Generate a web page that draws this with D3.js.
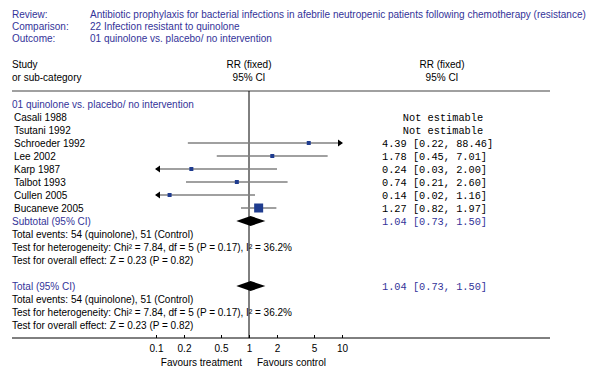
<!DOCTYPE html>
<html>
<head>
<meta charset="utf-8">
<script src="https://cdn.jsdelivr.net/npm/d3@7"></script>
<style>
  body { margin: 0; background: #fff; }
  text { font-family: "Liberation Sans", Arial, sans-serif; font-size: 10px; }
  .mono { font-family: "Liberation Mono", monospace; font-size: 10.3px; }
</style>
</head>
<body>
<div id="chart"></div>
<script>
var headLabels = ['Review:', 'Comparison:', 'Outcome:'];
var headValues = ['Antibiotic prophylaxis for bacterial infections in afebrile neutropenic patients following chemotherapy (resistance)',
                  '22 Infection resistant to quinolone',
                  '01 quinolone vs. placebo/ no intervention'];

var studies = ['Casali 1988', 'Tsutani 1992', 'Schroeder 1992', 'Lee 2002', 'Karp 1987', 'Talbot 1993', 'Cullen 2005', 'Bucaneve 2005'];
var rr    = [null, null, 4.39, 1.78, 0.24, 0.74, 0.14, 1.27];
var lower = [null, null, 0.22, 0.45, 0.03, 0.21, 0.02, 0.82];
var upper = [null, null, 88.46, 7.01, 2.00, 2.60, 1.16, 1.97];
var weight = [0, 0, 1.9, 5.0, 7.1, 8.4, 12.6, 65.0];

var pooled = [1.04, 0.73, 1.50];
var summaryLines = ['Total events: 54 (quinolone), 51 (Control)',
                    'Test for heterogeneity: Chi\u00b2 = 7.84, df = 5 (P = 0.17), I\u00b2 = 36.2%',
                    'Test for overall effect: Z = 0.23 (P = 0.82)'];
var tickValues = [0.1, 0.2, 0.5, 1, 2, 5, 10];

var width = 595, height = 370;
var blue = '#333399', grey = '#808080', boxBlue = '#1f3c8f';

var svg = d3.select('#chart').append('svg')
    .attr('width', width)
    .attr('height', height);

var x = d3.scaleLog().domain([0.1, 10]).range([156, 342]);
var row = d3.scaleLinear().domain([0, 1]).range([104, 117]);   // row index -> y centre
var size = d3.scaleSqrt().domain([0, 65]).range([0, 9]);

// header block
headLabels.forEach(function(t, i) {
  svg.append('text').attr('x', 12).attr('y', 18 + i * 12).attr('fill', blue).text(t);
  svg.append('text').attr('x', 90).attr('y', 18 + i * 12).attr('fill', blue).text(headValues[i]);
});

svg.append('text').attr('x', 12).attr('y', 68).text('Study');
svg.append('text').attr('x', 12).attr('y', 81).text('or sub-category');
[249, 442].forEach(function(cx) {
  svg.append('text').attr('x', cx).attr('y', 68).attr('text-anchor', 'middle').text('RR (fixed)');
  svg.append('text').attr('x', cx).attr('y', 81).attr('text-anchor', 'middle').text('95% CI');
});

svg.append('line').attr('x1', 12).attr('x2', 550).attr('y1', 91).attr('y2', 91)
    .attr('stroke', grey).attr('stroke-width', 1.5);

// vertical line of no effect
svg.append('line').attr('x1', x(1)).attr('x2', x(1)).attr('y1', 91).attr('y2', 338)
    .attr('stroke', '#000').attr('stroke-width', 1);

// group header
svg.append('text').attr('x', 12).attr('y', row(0) + 4).attr('fill', blue).text(headValues[2]);

// studies
var fmt = d3.format('.2f');
studies.forEach(function(s, i) {
  var y = row(i + 1);
  svg.append('text').attr('x', 14).attr('y', y + 4).text(s);
  if (rr[i] == null) {
    svg.append('text').attr('class', 'mono').attr('x', 443).attr('y', y + 4)
      .attr('text-anchor', 'middle').text('Not estimable');
    return;
  }
  var lo = Math.max(lower[i], 0.1), hi = Math.min(upper[i], 10);
  svg.append('line').attr('x1', x(lo)).attr('x2', x(hi)).attr('y1', y).attr('y2', y)
      .attr('stroke', grey).attr('stroke-width', 1.5);
  if (lower[i] < 0.1) {
    svg.append('path').attr('d', 'M' + (x(0.1) - 1) + ',' + y + 'l5,-3.5v7z').attr('fill', '#000');
  }
  if (upper[i] > 10) {
    svg.append('path').attr('d', 'M' + (x(10) + 1) + ',' + y + 'l-5,-3.5v7z').attr('fill', '#000');
  }
  var b = Math.max(4, size(weight[i]));
  svg.append('rect').attr('x', x(rr[i]) - b / 2).attr('y', y - b / 2)
      .attr('width', b).attr('height', b).attr('fill', boxBlue);
  svg.append('text').attr('class', 'mono').attr('x', 382).attr('y', y + 4)
      .text(fmt(rr[i]) + ' [' + fmt(lower[i]) + ', ' + fmt(upper[i]) + ']');
});

// subtotal and total blocks
function summary(start, label) {
  var y = row(start);
  svg.append('text').attr('x', 12).attr('y', y + 4).attr('fill', blue).text(label);
  svg.append('path')
    .attr('d', 'M' + x(pooled[1]) + ',' + y + 'L' + x(pooled[0]) + ',' + (y - 5) +
               'L' + x(pooled[2]) + ',' + y + 'L' + x(pooled[0]) + ',' + (y + 5) + 'Z')
    .attr('fill', '#000');
  svg.append('text').attr('class', 'mono').attr('x', 382).attr('y', y + 4).attr('fill', blue)
    .text(fmt(pooled[0]) + ' [' + fmt(pooled[1]) + ', ' + fmt(pooled[2]) + ']');
  summaryLines.forEach(function(t, k) {
    svg.append('text').attr('x', 12).attr('y', row(start + 1 + k) + 4).text(t);
  });
}
summary(9, 'Subtotal (95% CI)');
summary(14, 'Total (95% CI)');

// axis
svg.append('line').attr('x1', 12).attr('x2', 550).attr('y1', 338).attr('y2', 338)
    .attr('stroke', '#000').attr('stroke-width', 1);
var axis = svg.append('g').attr('transform', 'translate(0,338)')
  .call(d3.axisBottom(x).tickValues(tickValues).tickFormat(d3.format('~g')).tickSizeInner(-3).tickSizeOuter(0).tickPadding(7));
axis.select('.domain').remove();
axis.selectAll('text').attr('font-size', 10).attr('font-family', '"Liberation Sans", Arial, sans-serif');

svg.append('text').attr('x', x(1) - 7).attr('y', 366).attr('text-anchor', 'end').text('Favours treatment');
svg.append('text').attr('x', x(1) + 8).attr('y', 366).text('Favours control');
</script>
</body>
</html>
